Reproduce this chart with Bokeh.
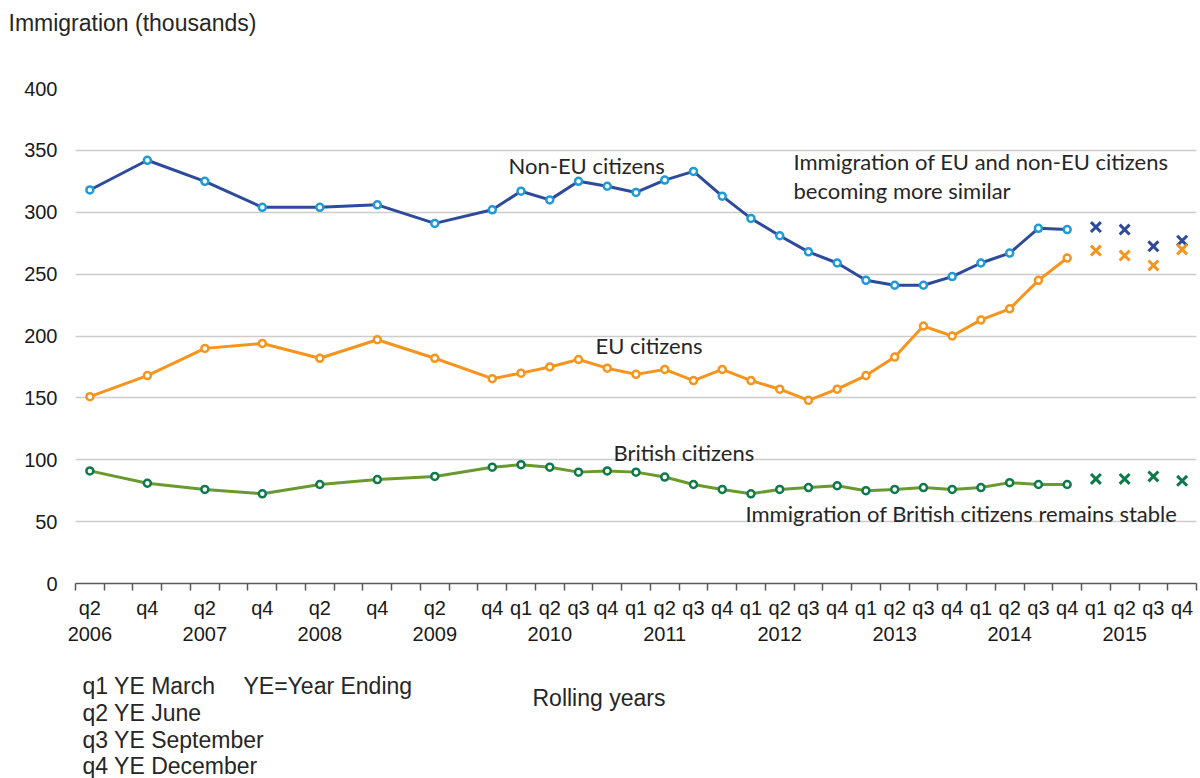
from bokeh.plotting import figure
from bokeh.models import FixedTicker, Range1d, Label
from bokeh.layouts import column
from bokeh.core.properties import value
from bokeh.embed import file_html
from bokeh.resources import INLINE

# ---------------- data ----------------
quarters = ["q2 2006", "q4 2006", "q2 2007", "q4 2007", "q2 2008", "q4 2008", "q2 2009", "q4 2009",
            "q1 2010", "q2 2010", "q3 2010", "q4 2010",
            "q1 2011", "q2 2011", "q3 2011", "q4 2011",
            "q1 2012", "q2 2012", "q3 2012", "q4 2012",
            "q1 2013", "q2 2013", "q3 2013", "q4 2013",
            "q1 2014", "q2 2014", "q3 2014", "q4 2014"]
non_eu = [318, 342, 325, 304, 304, 306, 291, 302,
          317, 310, 325, 321,
          316, 326, 333, 313,
          295, 281, 268, 259,
          245, 241, 241, 248,
          259, 267, 287, 286]
eu = [151, 168, 190, 194, 182, 197, 182, 165.5,
      170, 175, 181, 174,
      169, 173, 164, 173,
      164, 157, 148, 157,
      168, 183, 208, 200,
      213, 222, 245, 263]
british = [91, 81, 76, 72.5, 80, 84, 86.5, 94,
           96, 94, 90, 91,
           90, 86, 80, 76,
           72.5, 76, 77.5, 79,
           75, 76, 77.5, 76,
           77.5, 81.5, 80, 80]

proj_quarters = ["q1 2015", "q2 2015", "q3 2015", "q4 2015"]
non_eu_proj = [288, 286, 272.5, 277]
eu_proj = [269, 265, 257, 270]
british_proj = [84.5, 84.5, 86.5, 83]

axis_quarters = quarters + proj_quarters
y_ticks = [0, 50, 100, 150, 200, 250, 300, 350, 400]

# ------------- helpers -------------
def slot(label):
    q, y = label.split()
    return (int(y) - 2006) * 4 + int(q[1]) - 2

def tick_text(label):
    q, y = label.split()
    return q + "\n" + y if q == "q2" else q

x_main = [slot(q) for q in quarters]
x_proj = [slot(q) for q in proj_quarters]
n_slots = slot("q4 2015") + 1

W = 1200
HEAD_H = 44
MAIN_H = 616
NOTE_H = 778 - HEAD_H - MAIN_H

# page-pixel -> data helpers for annotation placement inside the frame
FL, FR, FB, FT = 75.0, 1196.0, 583.0, 88.0
def dx(px):
    return (px - FL) / ((FR - FL) / n_slots) - 0.5
def dy(py):
    return (FB - py) / ((FB - FT) / 400.0)

TXT = "#262626"

def text_fig(h, top):
    f = figure(width=W, height=h, output_backend="svg", toolbar_location=None,
               x_range=Range1d(0, W), y_range=Range1d(top + h, top),
               x_axis_location=None, y_axis_location=None, min_border=0)
    f.frame_align = False
    f.grid.visible = False
    f.outline_line_color = None
    f.background_fill_color = "white"
    f.border_fill_color = "white"
    return f

def put(f, text, px, py, font="Liberation Sans", size="23px"):
    f.text(x=[px], y=[py], text=[text], text_font=value(font), text_font_size=size,
           text_color=TXT, text_align="left", text_baseline="middle")

# header (axis title)
head = text_fig(HEAD_H, 0)
put(head, "Immigration (thousands)", 8, 22)

# main chart
p = figure(width=W, height=MAIN_H, output_backend="svg", toolbar_location=None,
           x_range=Range1d(-0.5, n_slots - 0.5), y_range=Range1d(0, 400),
           min_border_left=int(FL), min_border_right=W - int(FR),
           min_border_top=int(FT) - HEAD_H, min_border_bottom=HEAD_H + MAIN_H - int(FB))
p.frame_align = False
p.outline_line_color = None
p.background_fill_color = "white"
p.border_fill_color = "white"

xa = p.xaxis[0]
xa.ticker = FixedTicker(ticks=[slot(q) for q in axis_quarters],
                        minor_ticks=[i - 0.5 for i in range(n_slots + 1)])
xa.major_label_overrides = {slot(q): tick_text(q) for q in axis_quarters}
xa.major_tick_out = 0
xa.major_tick_in = 0
xa.minor_tick_out = 7
xa.minor_tick_in = 0
xa.minor_tick_line_color = "#595959"
xa.minor_tick_line_width = 1.5
xa.axis_line_color = "#595959"
xa.axis_line_width = 1.5
xa.major_label_standoff = 6
xa.major_label_text_font = "Liberation Sans"
xa.major_label_text_font_size = "20px"
xa.major_label_text_color = "#1a1a1a"

ya = p.yaxis[0]
ya.ticker = FixedTicker(ticks=y_ticks)
ya.axis_line_color = None
ya.major_tick_line_color = None
ya.minor_tick_line_color = None
ya.major_tick_out = 0
ya.major_tick_in = 0
ya.major_label_standoff = 18
ya.major_label_text_font = "Liberation Sans"
ya.major_label_text_font_size = "20px"
ya.major_label_text_color = "#1a1a1a"

p.xgrid.grid_line_color = None
p.ygrid.ticker = FixedTicker(ticks=y_ticks[1:])
p.ygrid.grid_line_color = "#cccccc"
p.ygrid.grid_line_width = 1.5

series = [
    (non_eu, non_eu_proj, "#2e4a9a", "#1e9ad6", "#2e4a9a"),
    (eu, eu_proj, "#f7941d", "#f7941d", "#f7941d"),
    (british, british_proj, "#6a9a2e", "#0e7a4c", "#0e7a4c"),
]
for vals, proj, lc, mc, xc in series:
    p.line(x_main, vals, line_color=lc, line_width=3)
    p.scatter(x_main, vals, marker="circle", size=7, fill_color="white",
              line_color=mc, line_width=2.5)
    p.scatter(x_proj, proj, marker="x", size=14, line_color=xc, line_width=3)

def add(text, px, py, font="Lato", size="22px"):
    p.add_layout(Label(x=dx(px), y=dy(py), text=text, text_font=font,
                       text_font_size=size, text_color=TXT,
                       text_align="left", text_baseline="middle"))

add("Non-EU citizens", 508, 165)
add("Immigration of EU and non-EU citizens", 793, 161)
add("becoming more similar", 793, 190)
add("EU citizens", 595, 345)
add("British citizens", 613, 452)
add("Immigration of British citizens remains stable", 745, 513)

# notes below the chart
notes = text_fig(NOTE_H, HEAD_H + MAIN_H)
put(notes, "q1 YE March", 82, 685)
put(notes, "YE=Year Ending", 243, 685)
put(notes, "q2 YE June", 82, 712)
put(notes, "q3 YE September", 82, 739)
put(notes, "q4 YE December", 82, 765)
put(notes, "Rolling years", 532, 697)

layout = column(head, p, notes, spacing=0)
open("out.html", "w").write(file_html(layout, INLINE))
